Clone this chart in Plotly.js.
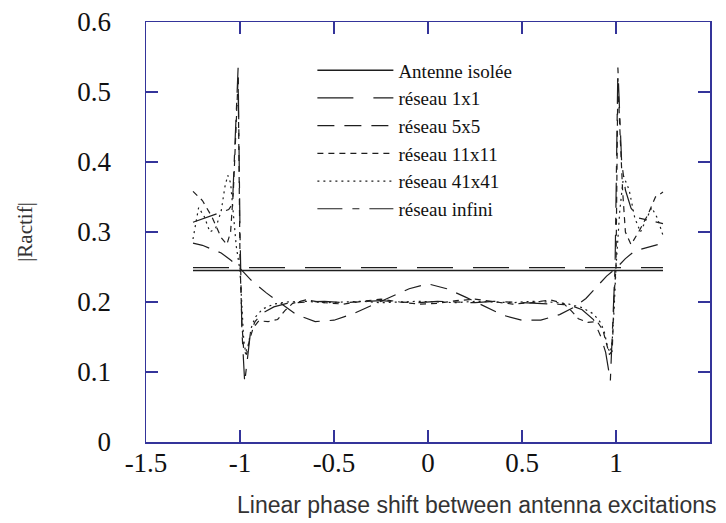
<!DOCTYPE html>
<html>
<head>
<meta charset="utf-8">
<script src="https://cdn.plot.ly/plotly-3.0.1.min.js"></script>
<style>html,body{margin:0;padding:0;background:#fff;}#chart{width:726px;height:523px;}</style>
</head>
<body>
<div id="chart"></div>
<script>
// ---- data ----
const seriesNames = ["Antenne isolée", "réseau 1x1", "réseau 5x5", "réseau 11x11", "réseau 41x41", "réseau infini"];

const xIsolee = [-1.25, 1.25];
const yIsolee = [0.245, 0.245];

const x1x1 = [-1.25, 1.25];
const y1x1 = [0.249, 0.249];

const x5x5 = [-1.25,-1.2,-1.1,-1.05,-1.0,-0.94,-0.86,-0.77,-0.7,-0.6,-0.5,-0.4,-0.3,-0.2,-0.1,0,0.1,0.2,0.3,0.4,0.5,0.6,0.7,0.78,0.84,0.9,0.95,1.0,1.05,1.1,1.2,1.25];
const y5x5 = [0.284,0.281,0.270,0.260,0.248,0.231,0.213,0.196,0.182,0.172,0.174,0.183,0.195,0.208,0.219,0.226,0.219,0.207,0.194,0.181,0.174,0.174,0.182,0.193,0.205,0.222,0.237,0.248,0.262,0.273,0.281,0.284];

const x11 = [-1.25,-1.2,-1.15,-1.1,-1.07,-1.05,-1.035,-1.02,-1.01,-1.0,-0.99,-0.98,-0.965,-0.95,-0.93,-0.9,-0.85,-0.8,-0.76,-0.72,-0.65,-0.55,-0.45,-0.35,-0.25,-0.15,-0.05,0.05,0.15,0.25,0.35,0.45,0.55,0.65,0.72,0.76,0.8,0.85,0.9,0.93,0.95,0.965,0.98,0.99,1.0,1.01,1.02,1.035,1.05,1.08,1.12,1.17,1.21,1.25];
const y11 = [0.358,0.345,0.322,0.292,0.282,0.300,0.360,0.450,0.520,0.260,0.170,0.130,0.125,0.145,0.163,0.173,0.172,0.175,0.188,0.198,0.203,0.199,0.197,0.201,0.204,0.200,0.197,0.198,0.202,0.204,0.200,0.197,0.199,0.203,0.198,0.188,0.176,0.171,0.172,0.160,0.140,0.125,0.130,0.210,0.250,0.520,0.450,0.360,0.300,0.282,0.300,0.325,0.350,0.357];

const x41 = [-1.25,-1.22,-1.19,-1.16,-1.13,-1.1,-1.08,-1.065,-1.05,-1.035,-1.02,-1.0,-0.99,-0.98,-0.97,-0.955,-0.94,-0.92,-0.88,-0.82,-0.75,-0.65,-0.55,-0.45,-0.35,-0.25,-0.15,-0.05,0.05,0.15,0.25,0.35,0.45,0.55,0.65,0.75,0.82,0.88,0.92,0.94,0.955,0.97,0.98,0.99,1.0,1.02,1.04,1.07,1.1,1.13,1.16,1.19,1.22,1.25];
const y41 = [0.290,0.335,0.322,0.300,0.305,0.330,0.365,0.381,0.370,0.330,0.280,0.245,0.190,0.145,0.128,0.140,0.163,0.178,0.190,0.197,0.200,0.201,0.199,0.200,0.201,0.199,0.200,0.201,0.200,0.199,0.201,0.200,0.199,0.201,0.200,0.197,0.192,0.183,0.170,0.155,0.135,0.128,0.145,0.190,0.250,0.330,0.380,0.360,0.320,0.300,0.318,0.335,0.320,0.295];

const xInf = [-1.25,-1.2,-1.15,-1.1,-1.06,-1.04,-1.03,-1.01,-1.0,-0.99,-0.975,-0.96,-0.945,-0.92,-0.88,-0.82,-0.75,-0.65,-0.55,-0.45,-0.35,-0.25,-0.15,-0.05,0.05,0.15,0.25,0.35,0.45,0.55,0.65,0.75,0.82,0.88,0.92,0.945,0.97,0.985,0.995,1.01,1.03,1.05,1.08,1.12,1.16,1.2,1.25];
const yInf = [0.314,0.319,0.324,0.328,0.332,0.340,0.410,0.535,0.300,0.160,0.085,0.120,0.155,0.172,0.184,0.193,0.198,0.200,0.201,0.199,0.200,0.202,0.200,0.199,0.201,0.200,0.199,0.201,0.200,0.199,0.198,0.196,0.189,0.175,0.150,0.128,0.088,0.200,0.250,0.535,0.400,0.360,0.334,0.320,0.318,0.315,0.312];

const xTickVals = [-1.5,-1,-0.5,0,0.5,1,1.5];
const xTickText = ["-1.5","-1","-0.5","0","0.5","1","1.5"];
const yTickVals = [0,0.1,0.2,0.3,0.4,0.5,0.6];
const yTickText = ["0","0.1","0.2","0.3","0.4","0.5","0.6"];

const xTitle = "Linear phase shift between antenna excitations";
const yTitle = "|Ractif|";

// ---- styling ----
const ink = "#1e1e1e";
const axisBlue = "#34349a";
const serif = "Liberation Serif";

function tr(x, y, name, dash, width) {
  return {x: x, y: y, name: name, type: "scatter", mode: "lines",
          line: {color: ink, width: width || 1.2, dash: dash}, hoverinfo: "skip"};
}

const data = [
  tr(xIsolee, yIsolee, seriesNames[0], "solid", 1.4),
  tr(x1x1, y1x1, seriesNames[1], "36px,20px", 1.3),
  tr(x5x5, y5x5, seriesNames[2], "17px,10px", 1.2),
  tr(x11, y11, seriesNames[3], "6px,5px", 1.2),
  tr(x41, y41, seriesNames[4], "2px,4px", 1.2),
  tr(xInf, yInf, seriesNames[5], "25px,10px,7px,10px", 1.2)
];

const axisCommon = {
  showline: true, linecolor: axisBlue, linewidth: 1.5, mirror: "ticks",
  ticks: "inside", ticklen: 12, tickwidth: 1.5, tickcolor: axisBlue,
  showgrid: false, zeroline: false,
  tickfont: {family: serif, size: 27, color: "#111"}
};

const layout = {
  width: 726, height: 523,
  margin: {l: 146, r: 16, t: 22, b: 81},
  paper_bgcolor: "#fff", plot_bgcolor: "#fff",
  showlegend: true,
  legend: {x: 0.295, y: 0.93, xanchor: "left", yanchor: "top",
           bgcolor: "rgba(0,0,0,0)", borderwidth: 0, itemwidth: 76,
           font: {family: serif, size: 19, color: "#111"}},
  xaxis: Object.assign({}, axisCommon, {range: [-1.5, 1.5], tickmode: "array",
           tickvals: xTickVals, ticktext: xTickText, ticklabelstandoff: -4}),
  yaxis: Object.assign({}, axisCommon, {range: [0, 0.6], tickmode: "array",
           tickvals: yTickVals, ticktext: yTickText, ticklabelstandoff: 28,
           title: {text: yTitle, font: {family: serif, size: 21, color: "#333"}, standoff: 39}}),
  annotations: [{
    text: xTitle, xref: "paper", yref: "paper", x: 0.587, y: -0.15,
    xanchor: "center", yanchor: "middle", showarrow: false,
    font: {family: "Liberation Sans", size: 23, color: "#333"}
  }]
};

Plotly.newPlot("chart", data, layout, {displayModeBar: false, staticPlot: true});
</script>
</body>
</html>
